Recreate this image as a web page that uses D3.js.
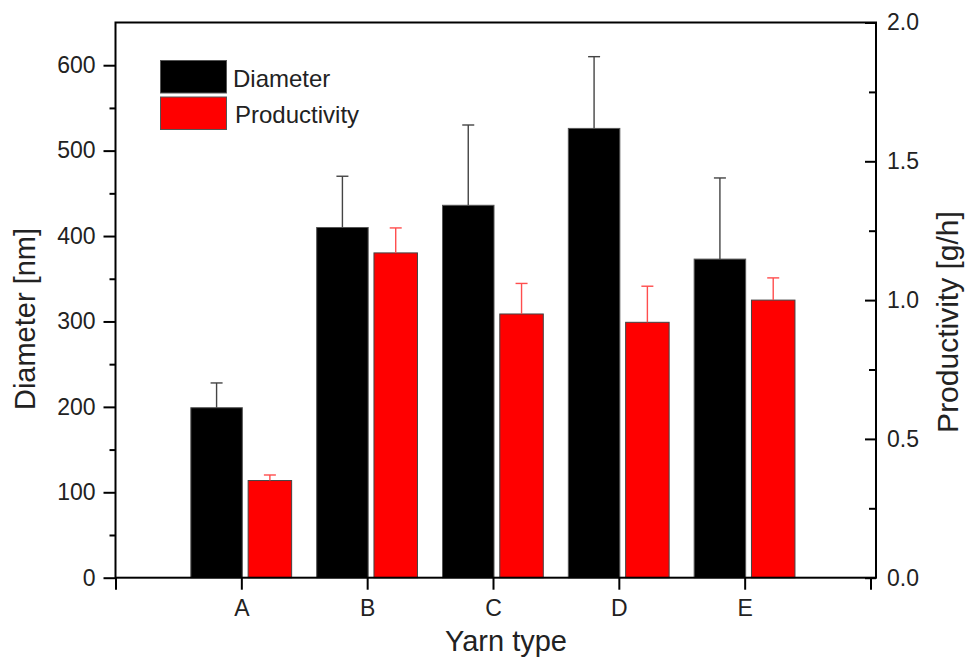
<!DOCTYPE html>
<html>
<head>
<meta charset="utf-8">
<script src="https://cdn.jsdelivr.net/npm/d3@7"></script>
<style>
  html, body { margin: 0; padding: 0; background: #fff; }
  svg { display: block; font-family: "Liberation Sans", Arial, Helvetica, sans-serif; }
</style>
</head>
<body>
<div id="chart"></div>
<script>
// yarn types, one group of two bars each
const categories = ['A', 'B', 'C', 'D', 'E'];
// left axis: fibre diameter in nm, upper error only
const diameter = [199, 410, 436, 526, 373];
const diameterErr = [29, 60, 94, 84, 95];
// right axis: productivity in g/h
const productivity = [0.35, 1.17, 0.95, 0.92, 1.0];
const productivityErr = [0.02, 0.09, 0.11, 0.13, 0.08];

const leftTicks = [0, 100, 200, 300, 400, 500, 600];
const leftMinor = [50, 150, 250, 350, 450, 550];
const rightTicks = [0, 0.5, 1.0, 1.5, 2.0];
const rightMinor = [0.25, 0.75, 1.25, 1.75];
const legendNames = ['Diameter', 'Productivity'];
const legendColors = ['#000000', '#ff0000'];

const W = 966, H = 659;
const box = { left: 115.5, right: 876, top: 22.5, bottom: 577.7 };

const svg = d3.select('#chart').append('svg').attr('width', W).attr('height', H);

// x positions: 0 and 6 are empty ends, categories sit at 1..5
const x = d3.scaleLinear().domain([0, 6]).range([box.left, 870.5]);
const yL = d3.scaleLinear().domain([0, 650]).range([box.bottom, box.top]);
const yR = d3.scaleLinear().domain([0, 2]).range([box.bottom, box.top]);

const rows = categories.map((c, i) => ({
    c, i: i + 1,
    d: diameter[i], de: diameterErr[i],
    p: productivity[i], pe: productivityErr[i]
}));

// diameter bars sit left of the tick, productivity bars right of it
svg.append('g').selectAll('rect').data(rows).join('rect')
    .attr('x', d => x(d.i) - 50.5)
    .attr('y', d => yL(d.d))
    .attr('width', 51.5)
    .attr('height', d => yL(0) - yL(d.d))
    .attr('fill', '#000').attr('stroke', '#555').attr('stroke-width', 1);

svg.append('g').selectAll('rect').data(rows).join('rect')
    .attr('x', d => x(d.i) + 6.8)
    .attr('y', d => yR(d.p))
    .attr('width', 43.5)
    .attr('height', d => yR(0) - yR(d.p))
    .attr('fill', '#ff0000').attr('stroke', '#444').attr('stroke-width', 1);

// error bars (upper half only)
function errBars(cx, top, val, color) {
    const g = svg.append('g').attr('stroke', color).attr('stroke-width', 1.4).attr('fill', 'none');
    g.selectAll('line.v').data(rows).join('line').attr('class', 'v')
        .attr('x1', cx).attr('x2', cx).attr('y1', val).attr('y2', top);
    g.selectAll('line.c').data(rows).join('line').attr('class', 'c')
        .attr('x1', d => cx(d) - 6).attr('x2', d => cx(d) + 6).attr('y1', top).attr('y2', top);
}
errBars(d => x(d.i) - 24.75, d => yL(d.d + d.de), d => yL(d.d), '#444');
errBars(d => x(d.i) + 28.55, d => yR(d.p + d.pe), d => yR(d.p), '#ff4d4d');

// axes
svg.append('g').attr('transform', `translate(${box.left},0)`)
    .call(d3.axisLeft(yL).tickValues(leftTicks).tickSize(12).tickPadding(8));
svg.append('g').attr('transform', `translate(${box.left},0)`)
    .call(d3.axisLeft(yL).tickValues(leftMinor).tickSize(6).tickFormat(''));

svg.append('g').attr('transform', `translate(${box.right},0)`)
    .call(d3.axisRight(yR).tickValues(rightTicks).tickSize(-11).tickPadding(11).tickFormat(d3.format('.1f')));
svg.append('g').attr('transform', `translate(${box.right},0)`)
    .call(d3.axisRight(yR).tickValues(rightMinor).tickSize(-7).tickFormat(''));

svg.append('g').attr('transform', `translate(0,${box.bottom})`)
    .call(d3.axisBottom(x).tickValues(d3.range(0, 7)).tickSize(12).tickPadding(10)
        .tickFormat(v => categories[v - 1] || ''));

svg.selectAll('.domain').remove();
svg.selectAll('.tick line').attr('stroke', '#000').attr('stroke-width', 2);
svg.selectAll('.tick text').attr('fill', '#222').style('font-size', '23px')
    .style('font-family', '"Liberation Sans", Arial, sans-serif');

// frame
svg.append('rect')
    .attr('x', box.left).attr('y', box.top)
    .attr('width', box.right - box.left).attr('height', box.bottom - box.top)
    .attr('fill', 'none').attr('stroke', '#000').attr('stroke-width', 2);

// axis titles
svg.append('text').text('Yarn type')
    .attr('x', 506).attr('y', 651).attr('text-anchor', 'middle')
    .attr('fill', '#222').style('font-size', '29px');
svg.append('text').text('Diameter [nm]')
    .attr('transform', 'translate(35,319) rotate(-90)').attr('text-anchor', 'middle')
    .attr('fill', '#222').style('font-size', '29px');
svg.append('text').text('Productivity [g/h]')
    .attr('transform', 'translate(958,322) rotate(-90)').attr('text-anchor', 'middle')
    .attr('fill', '#222').style('font-size', '30px');

// legend
const leg = svg.append('g');
legendNames.forEach((name, i) => {
    leg.append('rect').attr('x', 160.5).attr('y', 60.5 + i * 36.5)
        .attr('width', 66).attr('height', 32.5)
        .attr('fill', legendColors[i]).attr('stroke', '#555').attr('stroke-width', 1);
    leg.append('text').text(name)
        .attr('x', 233 + i * 2).attr('y', 86.5 + i * 36)
        .attr('fill', '#222').style('font-size', '24px');
});
</script>
</body>
</html>
